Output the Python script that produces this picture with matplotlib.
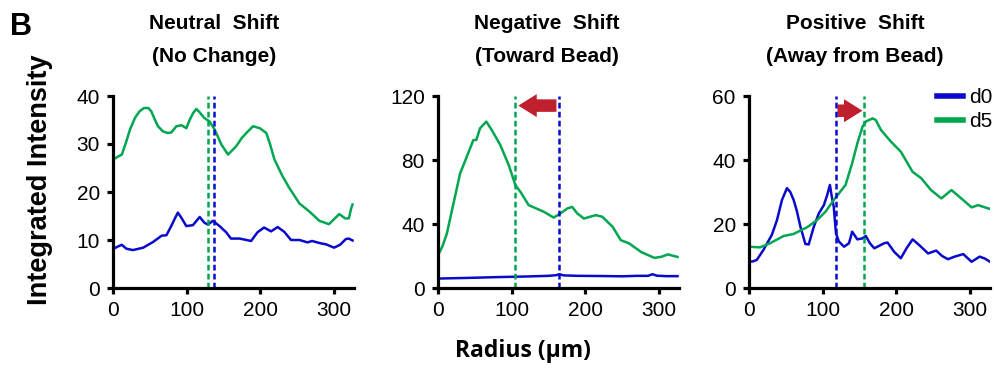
import matplotlib
matplotlib.use('Agg')
import matplotlib.pyplot as plt
from matplotlib.patches import FancyArrow

plt.rcParams['font.family'] = ['Liberation Sans', 'DejaVu Sans']

# ---- data ----
titles = [('Neutral  Shift', '(No Change)'),
          ('Negative  Shift', '(Toward Bead)'),
          ('Positive  Shift', '(Away from Bead)')]
ylims = [40, 120, 60]
yticks = [[0, 10, 20, 30, 40], [0, 40, 80, 120], [0, 20, 40, 60]]
xticks = [0, 100, 200, 300]

# neutral shift
n_d5_x = [0, 6, 12, 18, 23, 30, 36, 42, 48, 52, 57, 61, 68, 74, 79, 86, 93, 99.5, 104, 108.5,
          113, 117.6, 124, 131, 138, 147, 156, 167, 175, 181, 190, 199, 208, 213, 219, 230,
          239, 253, 266, 280, 293, 307, 315, 320, 323, 325]
n_d5_y = [26.8, 27.3, 27.8, 30.5, 33, 35.5, 36.8, 37.5, 37.5, 36.8, 35, 33.7, 32.6, 32.3, 32.4,
          33.7, 33.9, 33.3, 35, 36.4, 37.3, 36.6, 35.4, 34.7, 33, 29.9, 27.8, 29.5, 31.3, 32.3,
          33.7, 33.3, 32.3, 30, 26.8, 23.3, 20.9, 17.6, 16, 14, 13.3, 15.4, 14.5, 14.5, 16.5, 17.4]
n_d0_x = [0, 6, 12, 18, 27, 41, 54.5, 66, 72.5, 79, 84, 88, 92.5, 99.5, 108.5, 117.6, 124, 129,
          135.5, 144.6, 153.6, 160, 171.6, 187.4, 196, 205, 214.5, 223.4, 232.4, 241.5, 253,
          264, 270, 282, 289, 300, 308, 316, 320, 325]
n_d0_y = [8.1, 8.6, 9, 8.2, 7.9, 8.4, 9.6, 10.9, 11, 12.9, 14.5, 15.7, 14.7, 12.9, 13.1, 14.8,
          13.6, 13.2, 14, 12.9, 11.6, 10.3, 10.3, 9.8, 11.6, 12.6, 11.8, 12.7, 11.7, 10, 10, 9.5,
          9.8, 9.3, 9.1, 8.4, 9.0, 10.2, 10.3, 9.9]

# negative shift
g_d5_x = [0, 6, 12, 21, 30, 39, 48, 52, 57, 65.5, 73, 84.6, 96, 105, 112, 123, 132, 143.7, 157,
          166, 175.6, 182, 189, 198, 206, 214, 223, 237, 248, 259.6, 275.6, 293.7, 303, 312, 325]
g_d5_y = [20.5, 26, 34, 52.8, 71.6, 82, 92.5, 92.5, 99.8, 104, 98.7, 89.3, 76.8, 64.3, 60, 51.8,
          50, 47.6, 44, 46.6, 49.7, 50.7, 46.6, 43.4, 44.5, 45.5, 44.5, 38.2, 29.9, 27.8, 22.5,
          18.8, 19.5, 21, 19.4]
g_d0_x = [0, 40, 80, 120, 150, 160, 165, 170, 190, 220, 250, 270, 285, 291, 297, 310, 325]
g_d0_y = [5.9, 6.3, 6.8, 7.2, 7.6, 8.0, 8.6, 7.9, 7.6, 7.5, 7.3, 7.6, 7.6, 8.6, 7.7, 7.4, 7.4]

# positive shift
p_d5_x = [0, 15, 28.7, 47, 60.6, 79, 92.5, 104, 115, 131, 140, 147, 154, 158.5, 163, 167.7, 172,
          179, 192.7, 206, 222, 233.7, 247, 261, 274.7, 288, 302, 311, 320, 327]
p_d5_y = [12.9, 12.7, 14, 16.25, 16.9, 19, 21.25, 23.9, 27.5, 32.2, 39, 45.2, 50.4, 52, 52.5, 53,
          52.5, 49.4, 45.7, 42.6, 36.3, 34.3, 30.6, 28, 30.6, 28, 25.2, 25.9, 25.2, 24.7]
p_d0_x = [0, 5, 10.5, 19.6, 31, 38, 44.7, 51.5, 56, 60.6, 65, 69.7, 76.5, 81, 88, 94.7, 101.6,
          106, 109.8, 112, 115, 118, 122, 129, 135.7, 140, 147, 154, 158.5, 164, 170, 183.5, 188,
          197, 206, 214, 222, 231, 243, 254, 262, 270, 279, 290.7, 302, 313, 320, 327]
p_d0_y = [8.2, 8.3, 8.75, 11.9, 16.6, 21.25, 27.5, 31.2, 30, 27.5, 24, 19.2, 13.75, 13.6, 19.2,
          23.3, 25.9, 29, 32.2, 29, 25.4, 17.1, 14.5, 12.9, 14, 17.6, 15.2, 15.5, 16.25, 14, 12.4,
          14, 14.2, 11.3, 9.3, 12.5, 15.2, 13.4, 10.8, 11.7, 10, 9, 9.8, 10.6, 8.2, 9.8, 9.2, 8.2]

# peak position (um) for d0 / d5
shift_d0 = [137, 164.7, 117.5]
shift_d5 = [129, 104.5, 155.4]
arrow_y = [None, 114, 55.4]

d0_series = [(n_d0_x, n_d0_y), (g_d0_x, g_d0_y), (p_d0_x, p_d0_y)]
d5_series = [(n_d5_x, n_d5_y), (g_d5_x, g_d5_y), (p_d5_x, p_d5_y)]

blue = '#0A0ACC'
green = '#00A650'
red = '#C01F2E'

fig = plt.figure(figsize=(9.94, 3.73), dpi=100)
lefts = [113 / 994, 438 / 994, 749 / 994]
title_cx = [214 / 994, 547 / 994, 855 / 994]

for i in range(3):
    ax = fig.add_axes([lefts[i], 85 / 373, 241 / 994, 192 / 373])
    ax.plot(*d0_series[i], color=blue, lw=1.8, label='d0')
    ax.plot(*d5_series[i], color=green, lw=1.8, label='d5')
    ax.axvline(shift_d5[i], color=green, lw=1.8, ls=(0, (2.3, 1.3)))
    ax.axvline(shift_d0[i], color=blue, lw=1.8, ls=(0, (2.3, 1.3)))
    ax.set_xlim(0, 327)
    ax.set_ylim(0, ylims[i])
    ax.set_xticks(xticks)
    ax.set_yticks(yticks[i])
    for s in ['top', 'right']:
        ax.spines[s].set_visible(False)
    for s in ['left', 'bottom']:
        ax.spines[s].set_linewidth(2.3)
    ax.tick_params(width=2.3, length=4.5, labelsize=15, pad=5)

    if arrow_y[i] is not None:
        yr = ylims[i] / 192.0  # data units per pixel
        if shift_d5[i] < shift_d0[i]:
            x0 = shift_d0[i] - 4
            x1 = shift_d5[i] + 4.5
        else:
            x0 = shift_d0[i] + 2.5
            x1 = shift_d5[i] - 1.5
        arr = FancyArrow(x0, arrow_y[i], x1 - x0, 0, width=12.5 * yr, head_width=23 * yr,
                         head_length=25, length_includes_head=True, color=red, lw=0,
                         clip_on=False)
        ax.add_patch(arr)

    fig.text(title_cx[i], 1 - 29 / 373, titles[i][0], ha='center', va='baseline',
             fontsize=15, fontweight='bold')
    fig.text(title_cx[i], 1 - 62 / 373, titles[i][1], ha='center', va='baseline',
             fontsize=15, fontweight='bold')

    if i == 2:
        ax.legend(loc='upper right', bbox_to_anchor=(992 / 994, 1 - 88 / 373),
                  bbox_transform=fig.transFigure, frameon=False, fontsize=15,
                  handlelength=1.25, handletextpad=0.25, labelspacing=0.25, borderpad=0,
                  borderaxespad=0)
        for ln in ax.get_legend().get_lines():
            ln.set_linewidth(4)

fig.text(10 / 994, 1 - 35 / 373, 'B', fontsize=22, fontweight='bold', va='baseline')
fig.text(40 / 994, 1 - 180 / 373, 'Integrated Intensity', rotation=90, ha='center',
         va='center', fontsize=19.5, fontweight='bold')
fig.text(523 / 994, 1 - 357 / 373, 'Radius (μm)', ha='center', va='baseline',
         fontsize=16.5, fontweight='bold', family=['Open Sans', 'DejaVu Sans'])

fig.savefig('out.png', dpi=100)
